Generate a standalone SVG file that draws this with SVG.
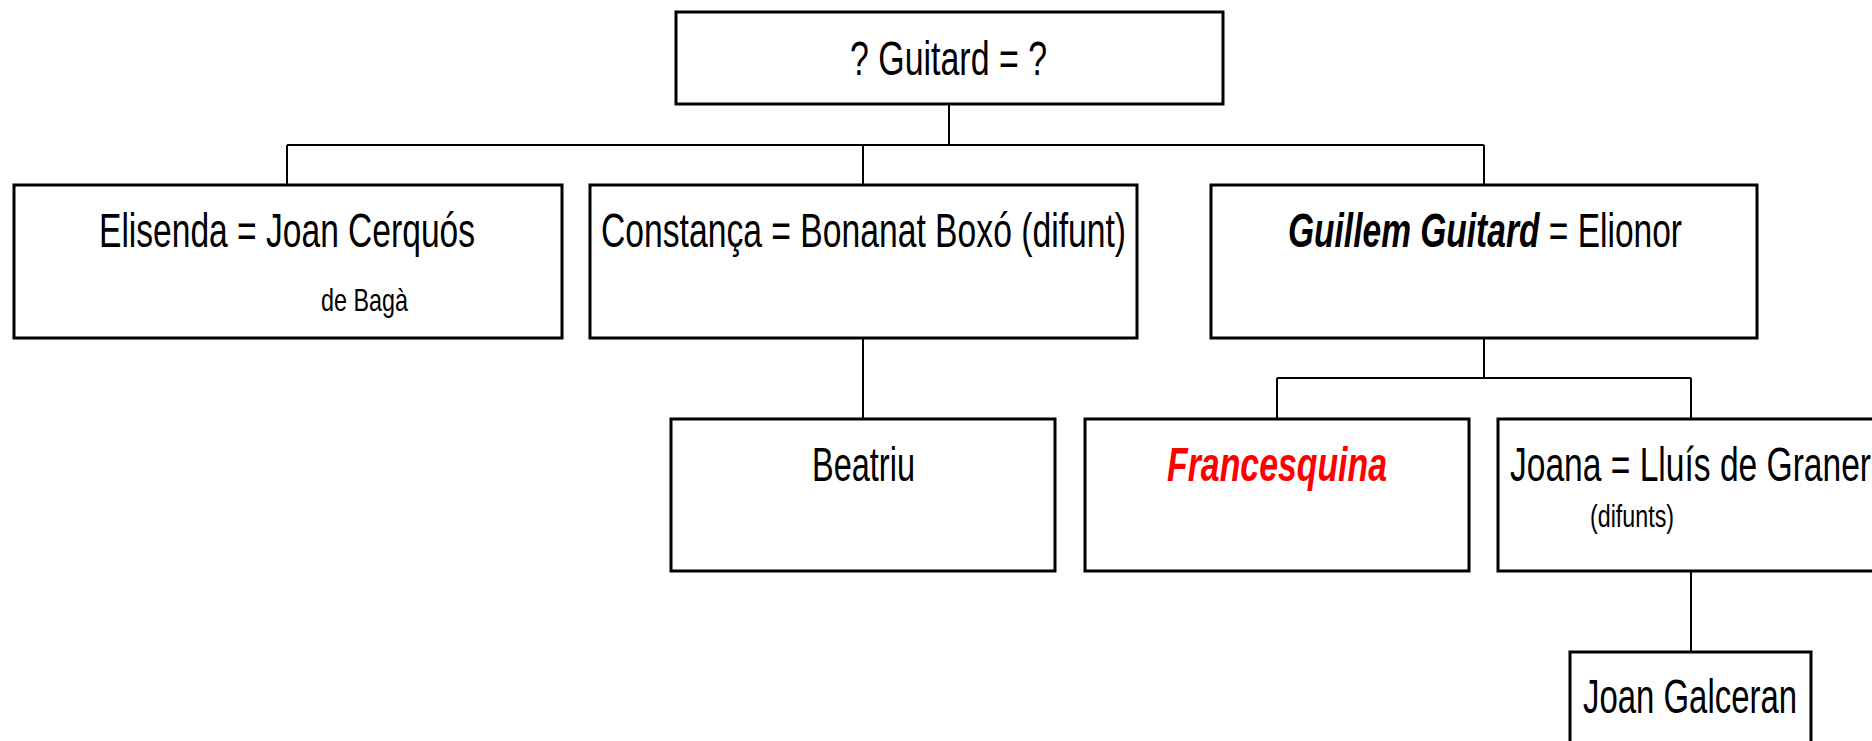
<svg xmlns="http://www.w3.org/2000/svg" width="1872" height="741" viewBox="0 0 1872 741">
<style>
.box{fill:#fff;stroke:#000;stroke-width:3}
.con{fill:none;stroke:#000;stroke-width:2}
.t{font-family:"Liberation Sans",Arial,sans-serif;font-size:48px;fill:#000}
.s{font-family:"Liberation Sans",Arial,sans-serif;font-size:32px;fill:#000}
.bi{font-weight:bold;font-style:italic}
.red{fill:#ff0000}
</style>
<rect width="1872" height="741" fill="#fff"/>
<g id="connectors">
<path class="con" d="M949 104V145M287 145H1484M287 145V185M863 145V185M1484 145V185"/>
<path class="con" d="M863 338V419"/>
<path class="con" d="M1484 338V378M1277 378H1691M1277 378V419M1691 378V419"/>
<path class="con" d="M1691 571V652"/>
</g>
<g id="root">
<rect class="box" x="676" y="12" width="547" height="92"/>
<text class="t" x="850" y="75" textLength="197" lengthAdjust="spacingAndGlyphs">? Guitard = ?</text>
</g>
<g id="elisenda">
<rect class="box" x="14" y="185" width="548" height="153"/>
<text class="t" x="99" y="247" textLength="376" lengthAdjust="spacingAndGlyphs">Elisenda = Joan Cerquós</text>
<text class="s" x="321" y="311" textLength="87" lengthAdjust="spacingAndGlyphs">de Bagà</text>
</g>
<g id="constanca">
<rect class="box" x="590" y="185" width="547" height="153"/>
<text class="t" x="601" y="247" textLength="525" lengthAdjust="spacingAndGlyphs">Constança = Bonanat Boxó (difunt)</text>
</g>
<g id="guillem">
<rect class="box" x="1211" y="185" width="546" height="153"/>
<text class="t" x="1288" y="247" textLength="394" lengthAdjust="spacingAndGlyphs"><tspan class="bi">Guillem Guitard</tspan> = Elionor</text>
</g>
<g id="beatriu">
<rect class="box" x="671" y="419" width="384" height="152"/>
<text class="t" x="812" y="481" textLength="103" lengthAdjust="spacingAndGlyphs">Beatriu</text>
</g>
<g id="francesquina">
<rect class="box" x="1085" y="419" width="384" height="152"/>
<text class="t bi red" x="1167" y="481" textLength="220" lengthAdjust="spacingAndGlyphs">Francesquina</text>
</g>
<g id="joana">
<rect class="box" x="1498" y="419" width="400" height="152"/>
<text class="t" x="1510" y="481" textLength="361" lengthAdjust="spacingAndGlyphs">Joana = Lluís de Graner</text>
<text class="s" x="1590" y="527" textLength="84" lengthAdjust="spacingAndGlyphs">(difunts)</text>
</g>
<g id="joan-galceran">
<rect class="box" x="1570" y="652" width="241" height="120"/>
<text class="t" x="1583" y="713" textLength="214" lengthAdjust="spacingAndGlyphs">Joan Galceran</text>
</g>
</svg>
